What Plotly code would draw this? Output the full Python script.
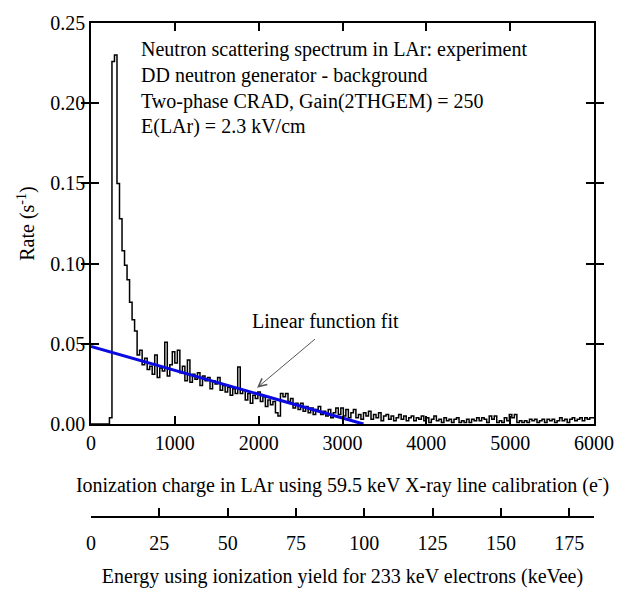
import plotly.graph_objects as go

# ---------------- data ----------------
BIN_START = 220          # e-
BIN_WIDTH = 30           # e-
RATE = [
    0.004, 0.226, 0.230, 0.150, 0.128, 0.108, 0.099, 0.090, 0.076, 0.065,
    0.058, 0.043, 0.046, 0.037, 0.041, 0.034, 0.036, 0.031, 0.043, 0.029,
    0.035, 0.033, 0.051, 0.030, 0.037, 0.045, 0.038, 0.046, 0.032, 0.036,
    0.027, 0.040, 0.026, 0.031, 0.028, 0.032, 0.024, 0.030, 0.027, 0.029,
    0.022, 0.027, 0.025, 0.029, 0.021, 0.024, 0.020, 0.023, 0.018, 0.022,
    0.019, 0.0355, 0.019, 0.021, 0.015, 0.019, 0.013, 0.018, 0.016, 0.020,
    0.014, 0.017, 0.011, 0.015, 0.012, 0.014, 0.007, 0.005, 0.019, 0.017,
    0.019, 0.014, 0.016, 0.010, 0.013, 0.009, 0.013, 0.008, 0.011, 0.007,
    0.010, 0.006, 0.009, 0.011, 0.006, 0.008, 0.005, 0.009, 0.004, 0.007,
    0.010, 0.006, 0.010, 0.005, 0.009, 0.004, 0.007, 0.009, 0.004, 0.006,
    0.003, 0.007, 0.005, 0.008, 0.003, 0.006, 0.004, 0.007, 0.002, 0.005,
    0.006, 0.003, 0.005, 0.002, 0.004, 0.006, 0.003, 0.005, 0.002, 0.004,
    0.005, 0.002, 0.004, 0.003, 0.005, 0.002, 0.004, 0.001, 0.003, 0.005,
    0.002, 0.003, 0.001, 0.004, 0.002, 0.003, 0.001, 0.003, 0.004, 0.001,
    0.002, 0.001, 0.003, 0.001, 0.003, 0.002, 0.004, 0.002, 0.004, 0.003,
    0.001, 0.005, 0.003, 0.005, 0.001, 0.002, 0.001, 0.004, 0.002, 0.006,
    0.004, 0.006, 0.001, 0.002, 0.001, 0.002, 0.001, 0.003, 0.002, 0.003,
    0.001, 0.002, 0.003, 0.001, 0.003, 0.002, 0.003, 0.001, 0.002, 0.004,
    0.002, 0.003, 0.001, 0.003, 0.004, 0.002, 0.003, 0.004, 0.002, 0.004,
    0.003, 0.004, 0.004,
]
FIT_INTERCEPT = 0.0483   # s^-1 at 0 e-
FIT_ZERO = 3250          # e- where the fit reaches zero
E_PER_KEVEE = 32.6       # conversion e- per keVee

X_RANGE = [0, 6000]
Y_RANGE = [0, 0.25]
KEVEE_TICKS = [0, 25, 50, 75, 100, 125, 150, 175]

INFO_LINES = [
    "Neutron scattering spectrum in LAr: experiment",
    "DD neutron generator - background",
    "Two-phase CRAD, Gain(2THGEM) = 250",
    "E(LAr) = 2.3 kV/cm",
]

# ---------------- figure ----------------
FONT = "Liberation Serif, Times New Roman, DejaVu Serif, serif"
edges = [BIN_START + BIN_WIDTH * k for k in range(len(RATE) + 1)]
xs = [0] + edges
ys = [0] + RATE + [RATE[-1]]

W, H = 626, 595
ML, MR, MT, MB = 91, 23, 21, 60
plot_h = H - MT - MB
y_bottom_px = 430
ydom0 = (H - MB - y_bottom_px) / plot_h
x2_pos = (H - MB - 525) / plot_h

fig = go.Figure()
fig.add_trace(go.Scatter(x=xs, y=ys, mode="lines", line=dict(color="black", width=1.5, shape="hv"),
                         showlegend=False, hoverinfo="skip"))
fig.add_trace(go.Scatter(x=[0, FIT_ZERO], y=[FIT_INTERCEPT, 0], mode="lines",
                         line=dict(color="rgb(10,10,225)", width=3), showlegend=False, hoverinfo="skip"))
# invisible trace that carries the secondary (keVee) axis
fig.add_trace(go.Scatter(x=[0, X_RANGE[1] / E_PER_KEVEE], y=[None, None], xaxis="x2", yaxis="y",
                         mode="lines", showlegend=False, hoverinfo="skip"))

axis_common = dict(showline=True, linecolor="black", ticks="inside", ticklen=8,
                   tickwidth=1.5, tickcolor="black", showgrid=False, zeroline=False,
                   tickfont=dict(family=FONT, size=20, color="black"))

fig.update_layout(
    width=W, height=H, margin=dict(l=ML, r=MR, t=MT, b=MB),
    paper_bgcolor="white", plot_bgcolor="rgba(0,0,0,0)",
    font=dict(family=FONT, size=20, color="black"),
    xaxis=dict(range=X_RANGE, dtick=1000, mirror="allticks", anchor="y", linewidth=1.5, **axis_common,
               title=dict(text="Ionization charge in LAr using 59.5 keV X-ray line calibration (e<sup>-</sup>)",
                          font=dict(family=FONT, size=20), standoff=25)),
    yaxis=dict(range=Y_RANGE, dtick=0.05, tickformat=".2f", mirror="allticks", domain=[ydom0, 1],
               linewidth=1.5, **axis_common,
               title=dict(text="Rate (s<sup>-1</sup>)", font=dict(family=FONT, size=20), standoff=10)),
    xaxis2=dict(range=[0, X_RANGE[1] / E_PER_KEVEE], tickvals=KEVEE_TICKS, anchor="free",
                overlaying="x", position=x2_pos, side="bottom", linewidth=2, ticklabelstandoff=8,
                **axis_common,
                title=dict(text="Energy using ionization yield for 233 keV electrons (keVee)",
                           font=dict(family=FONT, size=20), standoff=15)),
)

def py2paper(py):
    return (H - MB - py) / plot_h

for i, line in enumerate(INFO_LINES):
    fig.add_annotation(text=line, xref="paper", yref="paper", x=(140 - ML) / 512,
                       y=py2paper(48 + 26.3 * i), xanchor="left", yanchor="middle",
                       showarrow=False, font=dict(family=FONT, size=20, color="black"))

fig.add_annotation(text="Linear function fit", x=2800, y=0.0642, xref="x", yref="y",
                   showarrow=False, font=dict(family=FONT, size=20, color="black"))
fig.add_annotation(text=" ", x=1981, y=0.0226, ax=2719, ay=0.055, xref="x", yref="y",
                   axref="x", ayref="y", showarrow=True, arrowhead=5, arrowsize=1.6,
                   arrowwidth=1, arrowcolor="#555555")

fig.write_html("out.html")
